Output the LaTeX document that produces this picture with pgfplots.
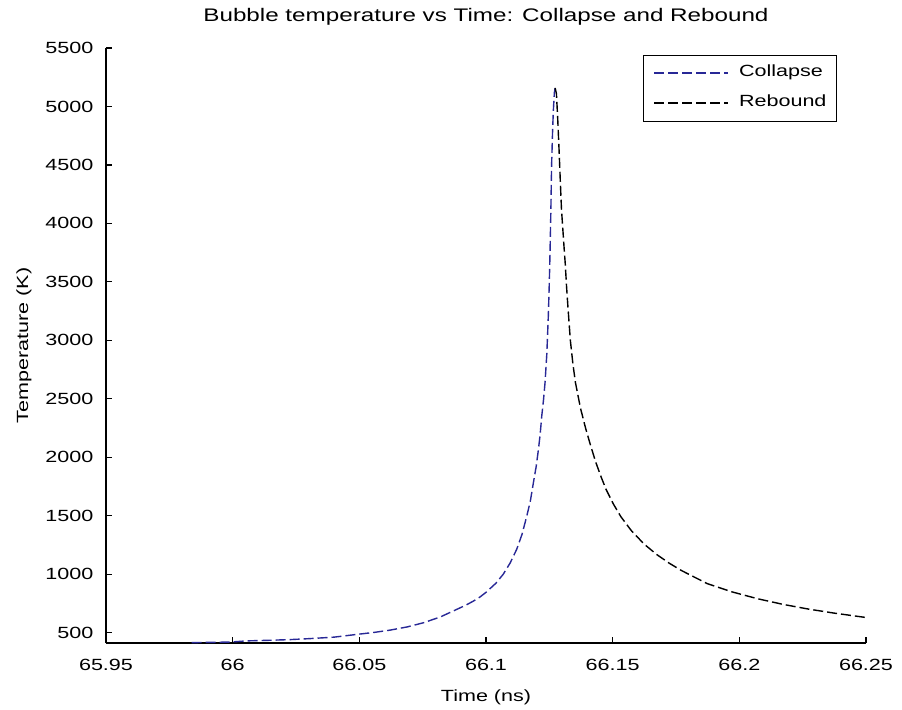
\documentclass[border=0pt]{standalone}
\usepackage{fontspec}
\setmainfont[FakeStretch=1.33]{Liberation Sans}
\usepackage{pgfplots}
\pgfplotsset{compat=1.18}
\definecolor{collapseblue}{RGB}{40,40,150}
\newcommand\tickfont{\fontsize{8.1}{9.7}\selectfont}
\newcommand\titlefont{\fontsize{9.1}{11}\selectfont}
\begin{document}
\begin{tikzpicture}
\useasboundingbox (0,0) rectangle (451pt,354.5pt);
\begin{axis}[
  at={(53pt,33pt)}, anchor=south west,
  scale only axis, width=380pt, height=297.5pt,
  xmin=65.95, xmax=66.25, ymin=412, ymax=5500,
  xtick={65.95,66,66.05,66.1,66.15,66.2,66.25},
  xticklabels={65.95,66,66.05,66.1,66.15,66.2,66.25},
  ytick={500,1000,1500,2000,2500,3000,3500,4000,4500,5000,5500},
  /pgf/number format/1000 sep={},
  /pgf/number format/assume math mode=true,
  axis x line*=bottom, axis y line*=left,
  axis line style={-, black, line width=0.6pt},
  tick align=inside, major tick length=3pt,
  tick style={black, line width=0.6pt},
  tick label style={font=\tickfont},
  xticklabel style={yshift=-4.8pt},
  yticklabel style={xshift=-2.8pt},
  title={Bubble temperature vs Time: Collapse and Rebound},
  title style={font=\titlefont, at={(axis description cs:0.5,1)}, anchor=base, yshift=7pt},
  xlabel={Time (ns)},
  xlabel style={font=\tickfont, at={(axis description cs:0.5,0)}, anchor=base, yshift=-29pt},
  ylabel={Temperature (K)},
  ylabel style={font=\tickfont, at={(axis description cs:-0.1026,0.5)}, anchor=base, rotate=0},
  legend image code/.code={\draw[#1] (0pt,0pt) -- (37pt,0pt);},
  legend style={font=\tickfont, at={(axis description cs:1,1)}, anchor=north east,
    xshift=-14.5pt, yshift=-3.35pt, draw=black, line width=0.5pt,
    inner xsep=5pt, inner ysep=5pt, row sep=7pt, column sep=5pt,
    nodes={inner sep=0pt, text height=5.8pt, text depth=2.2pt}},
  legend cell align=left,
]
\addplot[collapseblue, line width=0.7pt, dash pattern=on 5pt off 2pt] coordinates {
(65.9838,415) (65.9990,420) (66.0055,430) (66.0140,435) (66.0226,441)
(66.0300,449) (66.0400,462) (66.0500,488) (66.0560,503) (66.0621,522)
(66.0690,550) (66.0753,585) (66.0820,635) (66.0884,699) (66.0920,735)
(66.0950,770) (66.0976,805) (66.1000,845) (66.1016,877) (66.1040,925)
(66.1068,1000) (66.1095,1095) (66.1121,1212) (66.1142,1340) (66.1161,1497)
(66.1175,1625) (66.1187,1782) (66.1198,1920) (66.1207,2067) (66.1214,2200)
(66.1220,2351) (66.1227,2490) (66.1233,2637) (66.1240,2880) (66.1246,3206)
(66.1250,3500) (66.1253,3776) (66.1256,4100) (66.1259,4500) (66.1263,4800)
(66.1266,4970) (66.1270,5120) (66.1273,5158)
};
\addlegendentry{Collapse}
\addplot[black, line width=0.7pt, dash pattern=on 5pt off 2pt] coordinates {
(66.1273,5158) (66.1278,5110) (66.1283,4900) (66.1288,4650) (66.1293,4380)
(66.1298,4120) (66.1303,3960) (66.1308,3800) (66.1313,3650) (66.1318,3460)
(66.1323,3300) (66.1333,3000) (66.1343,2800) (66.1353,2640) (66.1373,2420)
(66.1393,2250) (66.1413,2100) (66.1433,1960) (66.1453,1840) (66.1473,1730)
(66.1503,1600) (66.1533,1490) (66.1573,1375) (66.1623,1260) (66.1673,1170)
(66.1723,1095) (66.1773,1030) (66.1873,920) (66.1973,848) (66.2073,790)
(66.2173,742) (66.2273,702) (66.2373,668) (66.2500,630)
};
\addlegendentry{Rebound}
\end{axis}
\end{tikzpicture}
\end{document}
